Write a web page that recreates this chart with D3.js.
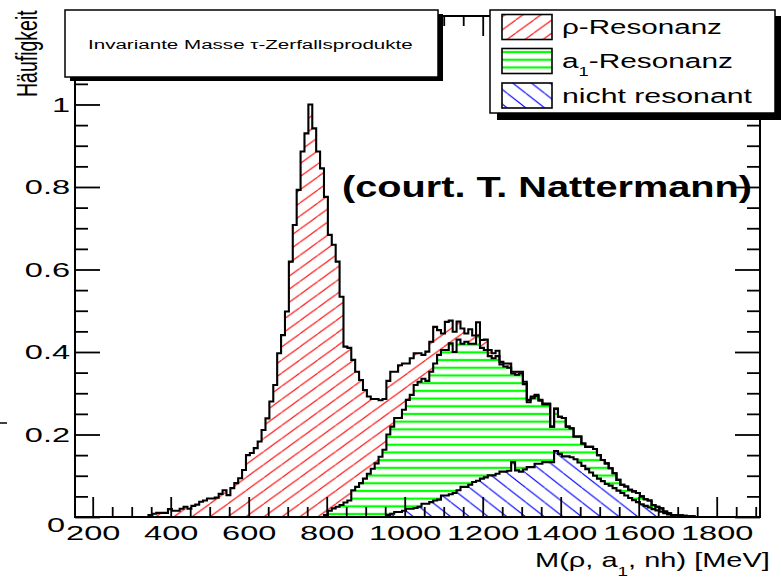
<!DOCTYPE html>
<html>
<head>
<meta charset="utf-8">
<script src="https://cdn.jsdelivr.net/npm/d3@7"></script>
<style>
  body { margin: 0; background: #fff; }
  svg { display: block; }
</style>
</head>
<body>
<svg id="chart" width="781" height="583"></svg>
<script>
// Stacked invariant-mass histogram (10 MeV bins), three components.
const binWidth = 10;

// ρ resonance, first bin lower edge 343 MeV
const rhoStart = 343;
const rhoValues = [
  .005,.008,.01,.01,.01,.019,.015,.015,.02,.025,
  .02,.027,.03,.037,.04,.045,.045,.047,.056,.065,
  .053,.07,.082,.094,.114,.15,.155,.167,.183,.211,
  .239,.28,.32,.397,.441,.498,.619,.708,.793,.886,
  .93,1.0,.942,.886,.845,
  .771,.669,.639,.594,.505,.378,.37,.316,.279,.25,
  .215,.187,.169,.156,.137,.123,.13,.133,.112,.128,
  .112,.088,.089,.077,.069,.058,.071,.073,.089,.06,
  .04,.068,.055,.049,.044,.037,.02,.035,.02,.032,
  .019,.025,.015,.012,.013,.006,.007,.01,.004,.007,
  .004,.006,.006,.004,.003,.002,.002,.002,0,.001
];

// a1 resonance, first bin lower edge 793 MeV
const a1Start = 793;
const a1Values = [
  .005,.015,.021,.025,.029,.035,.04,.065,.073,.082,
  .093,.105,.117,.13,.146,.163,.195,.211,.228,.228,
  .245,.264,.276,.298,.303,.303,.298,.316,.332,.351,
  .353,.353,.366,.342,.365,.347,.352,.342,.335,.352,
  .317,.309,.289,.284,.285,.26,.255,.25,.215,.232,
  .238,.207,.157,.167,.164,.153,.14,.14,.086,.102,
  .09,.093,.072,.07,.055,.063,.054,.054,.062,.065,
  .057,.051,.05,.042,.036,.026,.02,.022,.02,.021,
  .022,.019,.016,.017,.01,.009,.008,.004,.003,.001,
  .002,.002,.001,.001,.001
];

// non-resonant, first bin lower edge 953 MeV
const nhStart = 953;
const nhValues = [
  .005,.008,.012,.012,.015,.02,.02,.022,.025,.032,
  .032,.036,.04,.042,.052,.052,.055,.058,.065,.073,
  .073,.078,.085,.088,.093,.096,.101,.101,.105,.11,
  .11,.112,.133,.113,.11,.115,.121,.121,.129,.129,
  .133,.133,.133,.16,.153,.147,.147,.145,.14,.132,
  .124,.116,.108,.1,.093,.087,.08,.076,.07,.064,
  .058,.052,.046,.041,.036,.031,.027,.023,.019,.016,
  .013,.009,.006,.004,.002,.002,.002,.001,.001
];

const xDomain = [154.6, 1911];
const yDomain = [0, 1.2145];
const xMajorTicks = [200, 400, 600, 800, 1000, 1200, 1400, 1600, 1800];
const xMinorTicks = d3.range(200, 1901, 50).filter(v => v % 200 !== 0);
const yMajorTicks = [0, 0.2, 0.4, 0.6, 0.8, 1];
const yTickLabels = ["0", "0.2", "0.4", "0.6", "0.8", "1"];
const yMinorTicks = d3.range(1, 25).map(i => i * 0.05).filter((v, i) => (i + 1) % 4 !== 0);

const titleText = "Invariante Masse \u03c4-Zerfallsprodukte";
const yTitle = "H\u00e4ufigkeit";
const creditText = "(court. T. Nattermann)";
const legendLabels = [["\u03c1-Resonanz", "", ""], ["a", "1", "-Resonanz"], ["nicht resonant", "", ""]];
const legendWidths = [160, 171, 190];
const legendFills = ["hatchRed", "hatchGreen", "hatchBlue"];

const FONT = "'Liberation Sans', Arial, Helvetica, sans-serif";
const SX = 1.55; // horizontal text stretch of this figure
const L = 75, R = 760, T = 16, B = 517;

const svg = d3.select("#chart");
svg.append("rect").attr("width", 781).attr("height", 583).attr("fill", "#fff");

const x = d3.scaleLinear().domain(xDomain).range([L, R]);
const y = d3.scaleLinear().domain(yDomain).range([B, T]);

// stretch a text horizontally so that it spans the given width
function fitWidth(sel, tx, ty, width) {
  const w = sel.node().getComputedTextLength();
  sel.attr("transform", `translate(${tx},${ty}) scale(${width / w},1)`);
}

// ---- hatch patterns ----
const defs = svg.append("defs");
function hatch(id, p, deg, color, width, ox, oy, rising) {
  const h = p * Math.tan(deg * Math.PI / 180);
  const pat = defs.append("pattern").attr("id", id)
    .attr("patternUnits", "userSpaceOnUse")
    .attr("width", p).attr("height", h)
    .attr("patternTransform", `translate(${ox},${oy})`);
  const d = rising
    ? `M0,${h}L${p},0M${-p},${h}L0,0M${p},${h}L${2 * p},0`
    : `M0,0L${p},${h}M${-p},0L0,${h}M${p},0L${2 * p},${h}`;
  pat.append("path").attr("d", d).attr("stroke", color).attr("stroke-width", width).attr("fill", "none");
}
hatch("hatchRed", 18, 36, "#ff0000", 1.1, 191.7, B, true);
hatch("hatchBlue", 18.7, 38, "#0000ff", 1.1, 395, B, false);
defs.append("pattern").attr("id", "hatchGreen")
  .attr("patternUnits", "userSpaceOnUse").attr("width", 10).attr("height", 7.7)
  .attr("patternTransform", "translate(0,356.2)")
  .append("path").attr("d", "M-1,3.85H11").attr("stroke", "#00ff00").attr("stroke-width", 2.2);

defs.append("clipPath").attr("id", "frameClip")
  .append("rect").attr("x", L).attr("y", T).attr("width", R - L).attr("height", B - T);

// ---- bins and stack ----
const firstEdge = d3.min([rhoStart, a1Start, nhStart]);
const lastEdge = d3.max([
  rhoStart + rhoValues.length * binWidth,
  a1Start + a1Values.length * binWidth,
  nhStart + nhValues.length * binWidth]);
const nBins = Math.round((lastEdge - firstEdge) / binWidth);
function pick(start, vals, lo) {
  const k = Math.round((lo - start) / binWidth);
  return k >= 0 && k < vals.length ? vals[k] : 0;
}
const bins = d3.range(nBins).map(i => {
  const lo = firstEdge + i * binWidth;
  return { lo, hi: lo + binWidth,
    rho: pick(rhoStart, rhoValues, lo),
    a1: pick(a1Start, a1Values, lo),
    nh: pick(nhStart, nhValues, lo) };
});
const keys = ["nh", "a1", "rho"];
const starts = { nh: nhStart, a1: a1Start, rho: rhoStart };
const fills = { nh: "hatchBlue", a1: "hatchGreen", rho: "hatchRed" };
const layers = d3.stack().keys(keys)(bins);

function stepPoints(layer, start) {
  return layer.filter(d => d.data.lo >= start).flatMap(d => [
    { x: d.data.lo, y0: d[0], y1: d[1] },
    { x: d.data.hi, y0: d[0], y1: d[1] }]);
}

const plot = svg.append("g").attr("clip-path", "url(#frameClip)");
const area = d3.area().x(p => x(p.x)).y0(p => y(p.y0)).y1(p => y(p.y1));
layers.forEach(layer => {
  plot.append("path").datum(stepPoints(layer, starts[layer.key]))
    .attr("d", area).attr("fill", `url(#${fills[layer.key]})`).attr("stroke", "none");
});
const outline = d3.line().x(p => x(p.x)).y(p => y(p.y1));
layers.slice().reverse().forEach(layer => {
  const pts = stepPoints(layer, starts[layer.key]);
  const path = [{ x: pts[0].x, y1: 0 }, ...pts, { x: pts[pts.length - 1].x, y1: 0 }];
  plot.append("path").datum(path).attr("d", outline)
    .attr("fill", "none").attr("stroke", "#000").attr("stroke-width", 2.1)
    .attr("stroke-linejoin", "miter");
});

// ---- axes (ticks point inward on all four sides) ----
function styleAxis(g) {
  g.select(".domain").remove();
  g.selectAll("line").attr("stroke", "#000").attr("stroke-width", 1.8);
  g.attr("font-family", FONT).attr("font-size", 21);
}
svg.append("g").attr("transform", `translate(0,${B})`)
  .call(d3.axisBottom(x).tickValues(xMinorTicks).tickSizeInner(-10).tickSizeOuter(0).tickFormat(""))
  .call(styleAxis);
const xAxisG = svg.append("g").attr("transform", `translate(0,${B})`)
  .call(d3.axisBottom(x).tickValues(xMajorTicks).tickSizeInner(-20).tickSizeOuter(0).tickPadding(8).tickFormat(d3.format("d")))
  .call(styleAxis);
xAxisG.selectAll("text").attr("fill", "#000").attr("transform", `scale(${SX},1)`);

svg.append("g").attr("transform", `translate(0,${T})`)
  .call(d3.axisTop(x).tickValues(xMinorTicks).tickSizeInner(-10).tickSizeOuter(0).tickFormat(""))
  .call(styleAxis);
svg.append("g").attr("transform", `translate(0,${T})`)
  .call(d3.axisTop(x).tickValues(xMajorTicks).tickSizeInner(-20).tickSizeOuter(0).tickFormat(""))
  .call(styleAxis);

svg.append("g").attr("transform", `translate(${L},0)`)
  .call(d3.axisLeft(y).tickValues(yMinorTicks).tickSizeInner(-13).tickSizeOuter(0).tickFormat(""))
  .call(styleAxis);
const yAxisG = svg.append("g").attr("transform", `translate(${L},0)`)
  .call(d3.axisLeft(y).tickValues(yMajorTicks).tickSizeInner(-25).tickSizeOuter(0).tickPadding(3.2)
    .tickFormat((d, i) => yTickLabels[i]))
  .call(styleAxis);
yAxisG.selectAll("text").attr("fill", "#000").attr("transform", `scale(${SX},1)`);
// the zero label sits a little lower and further left
yAxisG.selectAll("text").filter(d => d === 0).attr("transform", `translate(-5,8) scale(${SX},1)`);

svg.append("g").attr("transform", `translate(${R},0)`)
  .call(d3.axisRight(y).tickValues(yMinorTicks).tickSizeInner(-13).tickSizeOuter(0).tickFormat(""))
  .call(styleAxis);
svg.append("g").attr("transform", `translate(${R},0)`)
  .call(d3.axisRight(y).tickValues(yMajorTicks).tickSizeInner(-25).tickSizeOuter(0).tickFormat(""))
  .call(styleAxis);

svg.append("rect").attr("x", L).attr("y", T).attr("width", R - L).attr("height", B - T)
  .attr("fill", "none").attr("stroke", "#000").attr("stroke-width", 2);

// short stray tick at the far left
svg.append("line").attr("x1", 0).attr("x2", 7).attr("y1", 423).attr("y2", 423)
  .attr("stroke", "#000").attr("stroke-width", 1.5);

// ---- axis titles ----
const xt = svg.append("text")
  .attr("text-anchor", "start").attr("font-family", FONT).attr("font-size", 20).attr("fill", "#000");
xt.append("tspan").text("M(\u03c1, a");
xt.append("tspan").attr("dy", 9).attr("font-size", 13).text("1");
xt.append("tspan").attr("dy", -9).text(", nh) [MeV]");
fitWidth(xt, 535, 567, 235);

svg.append("text").attr("transform", `translate(37,97) scale(${SX},1) rotate(-90)`)
  .attr("font-family", FONT).attr("font-size", 19.5).attr("fill", "#000").text(yTitle);

// ---- title box ----
svg.append("rect").attr("x", 70).attr("y", 14).attr("width", 373).attr("height", 67).attr("fill", "#000");
svg.append("rect").attr("x", 65).attr("y", 10).attr("width", 373).attr("height", 67)
  .attr("fill", "#fff").attr("stroke", "#000").attr("stroke-width", 1.5);
const tt = svg.append("text").attr("font-family", FONT).attr("font-size", 13.5).attr("fill", "#000")
  .text(titleText);
fitWidth(tt, 88, 49, 325);

// ---- legend ----
svg.append("rect").attr("x", 497).attr("y", 16).attr("width", 285).attr("height", 104).attr("fill", "#000");
svg.append("rect").attr("x", 490).attr("y", 10).attr("width", 285).attr("height", 103)
  .attr("fill", "#fff").attr("stroke", "#000").attr("stroke-width", 1.5);
const legendRowY = [27, 61, 95.5];
legendLabels.forEach((lab, i) => {
  const cy = legendRowY[i];
  svg.append("rect").attr("x", 502).attr("y", cy - 12.5).attr("width", 50).attr("height", 25)
    .attr("fill", `url(#${legendFills[i]})`).attr("stroke", "#000").attr("stroke-width", 1.6);
  const t = svg.append("text").attr("font-family", FONT).attr("font-size", 19.5).attr("fill", "#000");
  t.append("tspan").text(lab[0]);
  if (lab[1]) {
    t.append("tspan").attr("dy", 8).attr("font-size", 12).text(lab[1]);
    t.append("tspan").attr("dy", -8).text(lab[2]);
  }
  fitWidth(t, 562, cy + 7, legendWidths[i]);
});

// ---- credit ----
svg.append("text").attr("x", 342).attr("y", 197)
  .attr("font-family", FONT).attr("font-weight", "bold").attr("font-size", 30)
  .attr("textLength", 410).attr("lengthAdjust", "spacingAndGlyphs").attr("fill", "#000")
  .text(creditText);
</script>
</body>
</html>
